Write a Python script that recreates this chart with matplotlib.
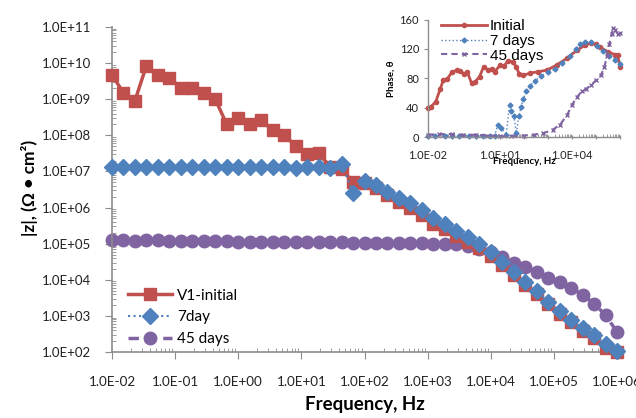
import matplotlib
matplotlib.use("Agg")
import matplotlib.pyplot as plt
from matplotlib.ticker import FuncFormatter, LogLocator, NullFormatter, MultipleLocator

plt.rcParams['font.family'] = ['Lato', 'DejaVu Sans']

# ---------------- data: main |Z| plot ----------------
freq = [0.01, 0.0152, 0.0231, 0.0351, 0.0534, 0.0811, 0.123, 0.187, 0.285, 0.433,
        0.658, 1.0, 1.52, 2.31, 3.51, 5.34, 8.11, 12.3, 18.7, 28.5,
        43.3, 65.8, 100, 152, 231, 351, 534, 811, 1230, 1870,
        2850, 4330, 6580, 10000, 15200, 23100, 35100, 53400, 81100, 123000,
        187000, 285000, 433000, 658000, 1000000]

z_initial = [4.7e9, 1.5e9, 9.1e8, 8.5e9, 4.7e9, 3.8e9, 2.1e9, 2.0e9, 1.5e9, 1.0e9,
             2.0e8, 3.1e8, 2.1e8, 2.6e8, 1.4e8, 1.0e8, 5.2e7, 3.0e7, 3.2e7, 1.35e7,
             1.15e7, 5.1e6, 4.7e6, 3.4e6, 2.2e6, 1.45e6, 9.5e5, 6.2e5, 3.6e5, 2.6e5,
             1.6e5, 1.1e5, 7.4e4, 4.6e4, 2.6e4, 1.4e4, 7.2e3, 4.0e3, 2.1e3, 1.15e3,
             6.6e2, 3.8e2, 2.4e2, 1.3e2, 1.0e2]

z_7day = [1.32e7, 1.32e7, 1.32e7, 1.32e7, 1.32e7, 1.32e7, 1.32e7, 1.32e7, 1.32e7, 1.32e7,
          1.32e7, 1.32e7, 1.32e7, 1.32e7, 1.32e7, 1.30e7, 1.26e7, 1.30e7, 1.30e7, 1.24e7,
          1.65e7, 2.6e6, 5.5e6, 4.1e6, 2.75e6, 1.8e6, 1.3e6, 8.5e5, 5.0e5, 3.6e5,
          2.3e5, 1.5e5, 1.0e5, 6.0e4, 3.2e4, 1.66e4, 8.7e3, 4.9e3, 2.45e3, 1.38e3,
          7.9e2, 4.5e2, 2.95e2, 1.66e2, 1.07e2]

z_45day = [1.25e5, 1.25e5, 1.22e5, 1.24e5, 1.24e5, 1.20e5, 1.16e5, 1.20e5, 1.19e5, 1.20e5,
           1.18e5, 1.12e5, 1.12e5, 1.13e5, 1.12e5, 1.13e5, 1.10e5, 1.10e5, 1.10e5, 1.08e5,
           1.08e5, 1.07e5, 1.07e5, 1.05e5, 1.05e5, 1.04e5, 1.02e5, 1.02e5, 1.00e5, 9.8e4,
           9.5e4, 8.5e4, 7.2e4, 5.9e4, 4.4e4, 3.0e4, 2.2e4, 1.6e4, 1.1e4, 8.5e3,
           6.0e3, 3.8e3, 2.2e3, 1.05e3, 3.6e2]

# ---------------- data: inset phase plot ----------------
ph_init_f = [0.01, 0.013, 0.021, 0.032, 0.044, 0.063, 0.098, 0.16, 0.21, 0.32,
             0.44, 0.66, 0.91, 1.4, 2.1, 3.2, 4.5, 6.2, 10, 15,
             22, 34, 47, 63, 93, 180, 400, 900, 2300, 6000,
             16000, 35000, 60000, 100000, 150000, 320000, 620000, 800000, 1000000]
ph_init = [40, 41, 48, 65, 78, 79, 88, 91, 90, 86,
           88, 73, 75, 82, 96, 91, 93, 89, 98, 97,
           104, 102, 96, 86, 84, 87, 89, 91, 98, 107,
           118, 125, 128, 126, 122, 116, 112, 111, 96]

ph_7_f = [0.01, 0.02, 0.05, 0.1, 0.2, 0.5, 1, 2, 4, 6,
          7.9, 11, 18, 25, 30, 38, 48, 60, 76, 93,
          126, 178, 282, 500, 1000, 2000, 4000, 7900, 14000, 22000,
          35000, 63000, 112000, 200000, 355000, 630000, 1000000]
ph_7 = [2, 2, 2, 2, 1, 2, 1, 2, 1, 2,
        16, 12, 3, 44, 35, 28, 5, 28, 41, 52,
        62, 70, 76, 83, 88, 93, 101, 110, 120, 126,
        130, 129, 124, 117, 110, 105, 100]

ph_45_f = [0.01, 0.03, 0.1, 0.3, 1, 3, 10, 30, 100, 250,
           630, 1600, 3200, 6300, 10000, 16000, 25000, 40000, 63000, 100000,
           160000, 224000, 282000, 355000, 447000, 525000, 630000, 800000, 1000000]
ph_45 = [3, 4, 4, 3, 3, 2, 1, 1, 2, 3,
         5, 10, 17, 30, 44, 54, 62, 66, 71, 77,
         84, 95, 110, 126, 140, 149, 146, 140, 141]

labels_main = ["V1-initial", "7day", "45 days"]
labels_inset = ["Initial", "7 days", "45 days"]

RED = "#C0504D"
BLUE = "#4F81BD"
PURPLE = "#8064A2"
AXC = "#8C8C8C"

def sci(v, pos):
    import math
    e = int(round(math.log10(v)))
    return "1.0E{:+03d}".format(e)

fig = plt.figure(figsize=(6.36, 4.18), dpi=100)
ax = fig.add_axes([112/636, 1-352/418, (617-112)/636, (352-27)/418])

ax.plot(freq, z_initial, color=RED, lw=2.5, ls='-', marker='s', ms=8.5,
        label=labels_main[0], clip_on=False, zorder=3)
ax.plot(freq, z_7day, color=BLUE, lw=1.5, ls=':', marker='D', ms=8,
        label=labels_main[1], clip_on=False, zorder=4)
ax.plot(freq, z_45day, color=PURPLE, lw=2.5, ls=(0, (3, 2)), marker='o', ms=9,
        label=labels_main[2], clip_on=False, zorder=2)

ax.set_xscale('log')
ax.set_yscale('log')
ax.set_xlim(1e-2, 1e6)
ax.set_ylim(1e2, 1e11)
ax.xaxis.set_major_locator(LogLocator(base=10, numticks=20))
ax.yaxis.set_major_locator(LogLocator(base=10, numticks=20))
ax.xaxis.set_minor_locator(LogLocator(base=10, subs=range(2, 10), numticks=100))
ax.yaxis.set_minor_locator(LogLocator(base=10, subs=range(2, 10), numticks=100))
ax.xaxis.set_major_formatter(FuncFormatter(sci))
ax.yaxis.set_major_formatter(FuncFormatter(sci))
ax.xaxis.set_minor_formatter(NullFormatter())
ax.yaxis.set_minor_formatter(NullFormatter())
for s in ['top', 'right']:
    ax.spines[s].set_visible(False)
for s in ['left', 'bottom']:
    ax.spines[s].set_color(AXC)
    ax.spines[s].set_linewidth(1.2)
ax.tick_params(axis='both', which='major', direction='out', length=5, color=AXC,
               labelsize=9.5, labelcolor='#222222')
ax.tick_params(axis='both', which='minor', direction='in', length=3, color=AXC)
ax.tick_params(axis='x', which='major', pad=12, labelsize=9.7)
ax.tick_params(axis='y', which='major', pad=10)

ax.set_xlabel("Frequency, Hz", fontsize=13.5, fontweight='bold', labelpad=6)
fig.text(30/636, 1-188/418, "|z|, (\u03a9 \u2022 cm\u00b2)", fontsize=12.5,
         fontweight='bold', rotation=90, ha='center', va='center',
         rotation_mode='anchor')

leg = ax.legend(loc='lower left', bbox_to_anchor=(0.004, -0.024), frameon=False,
                fontsize=11, handlelength=2.9, labelspacing=0.5, handletextpad=0.3)

# ---------------- inset ----------------
ins = fig.add_axes([428/636, 1-137/418, (620-428)/636, (137-19.5)/418])
ins.plot(ph_init_f, ph_init, color=RED, lw=2, ls='-', marker='o', ms=3,
         label=labels_inset[0], clip_on=False)
ins.plot(ph_7_f, ph_7, color=BLUE, lw=1, ls=':', marker='D', ms=2.5,
         label=labels_inset[1], clip_on=False)
ins.plot(ph_45_f, ph_45, color=PURPLE, lw=1.5, ls=(0, (3, 2)), marker='x', ms=3,
         label=labels_inset[2], clip_on=False)
ins.set_xscale('log')
ins.set_xlim(1e-2, 1e6)
ins.set_ylim(0, 160)
ins.yaxis.set_major_locator(MultipleLocator(40))
ins.xaxis.set_major_locator(LogLocator(base=10, numticks=20))
ins.xaxis.set_minor_locator(LogLocator(base=10, subs=range(2, 10), numticks=100))

def ins_fmt(v, pos):
    import math
    e = int(round(math.log10(v)))
    if e in (-2, 1, 4):
        return "1.0E{:+03d}".format(e)
    return ""
ins.xaxis.set_major_formatter(FuncFormatter(ins_fmt))
ins.xaxis.set_minor_formatter(NullFormatter())
for s in ['top', 'right']:
    ins.spines[s].set_visible(False)
for s in ['left', 'bottom']:
    ins.spines[s].set_color(AXC)
    ins.spines[s].set_linewidth(1.0)
ins.tick_params(axis='both', which='major', direction='out', length=3, color=AXC,
                labelsize=8, labelcolor='#222222')
ins.tick_params(axis='x', which='major', direction='inout', pad=8)
ins.tick_params(axis='x', which='minor', direction='in', length=2, color=AXC)
ins.set_xlabel("Frequency, Hz", fontsize=7, fontweight='bold', labelpad=-3)
ins.set_ylabel("Phase, \u03b8", fontsize=7, fontweight='bold', labelpad=3)
ins.legend(loc='upper left', bbox_to_anchor=(0.02, 1.08), frameon=False,
           prop={'family': ['Liberation Sans Narrow', 'Liberation Sans'], 'size': 11},
           handlelength=3.0, labelspacing=0.05, handletextpad=0.2, borderpad=0.1)

fig.savefig("out.png", dpi=100)
